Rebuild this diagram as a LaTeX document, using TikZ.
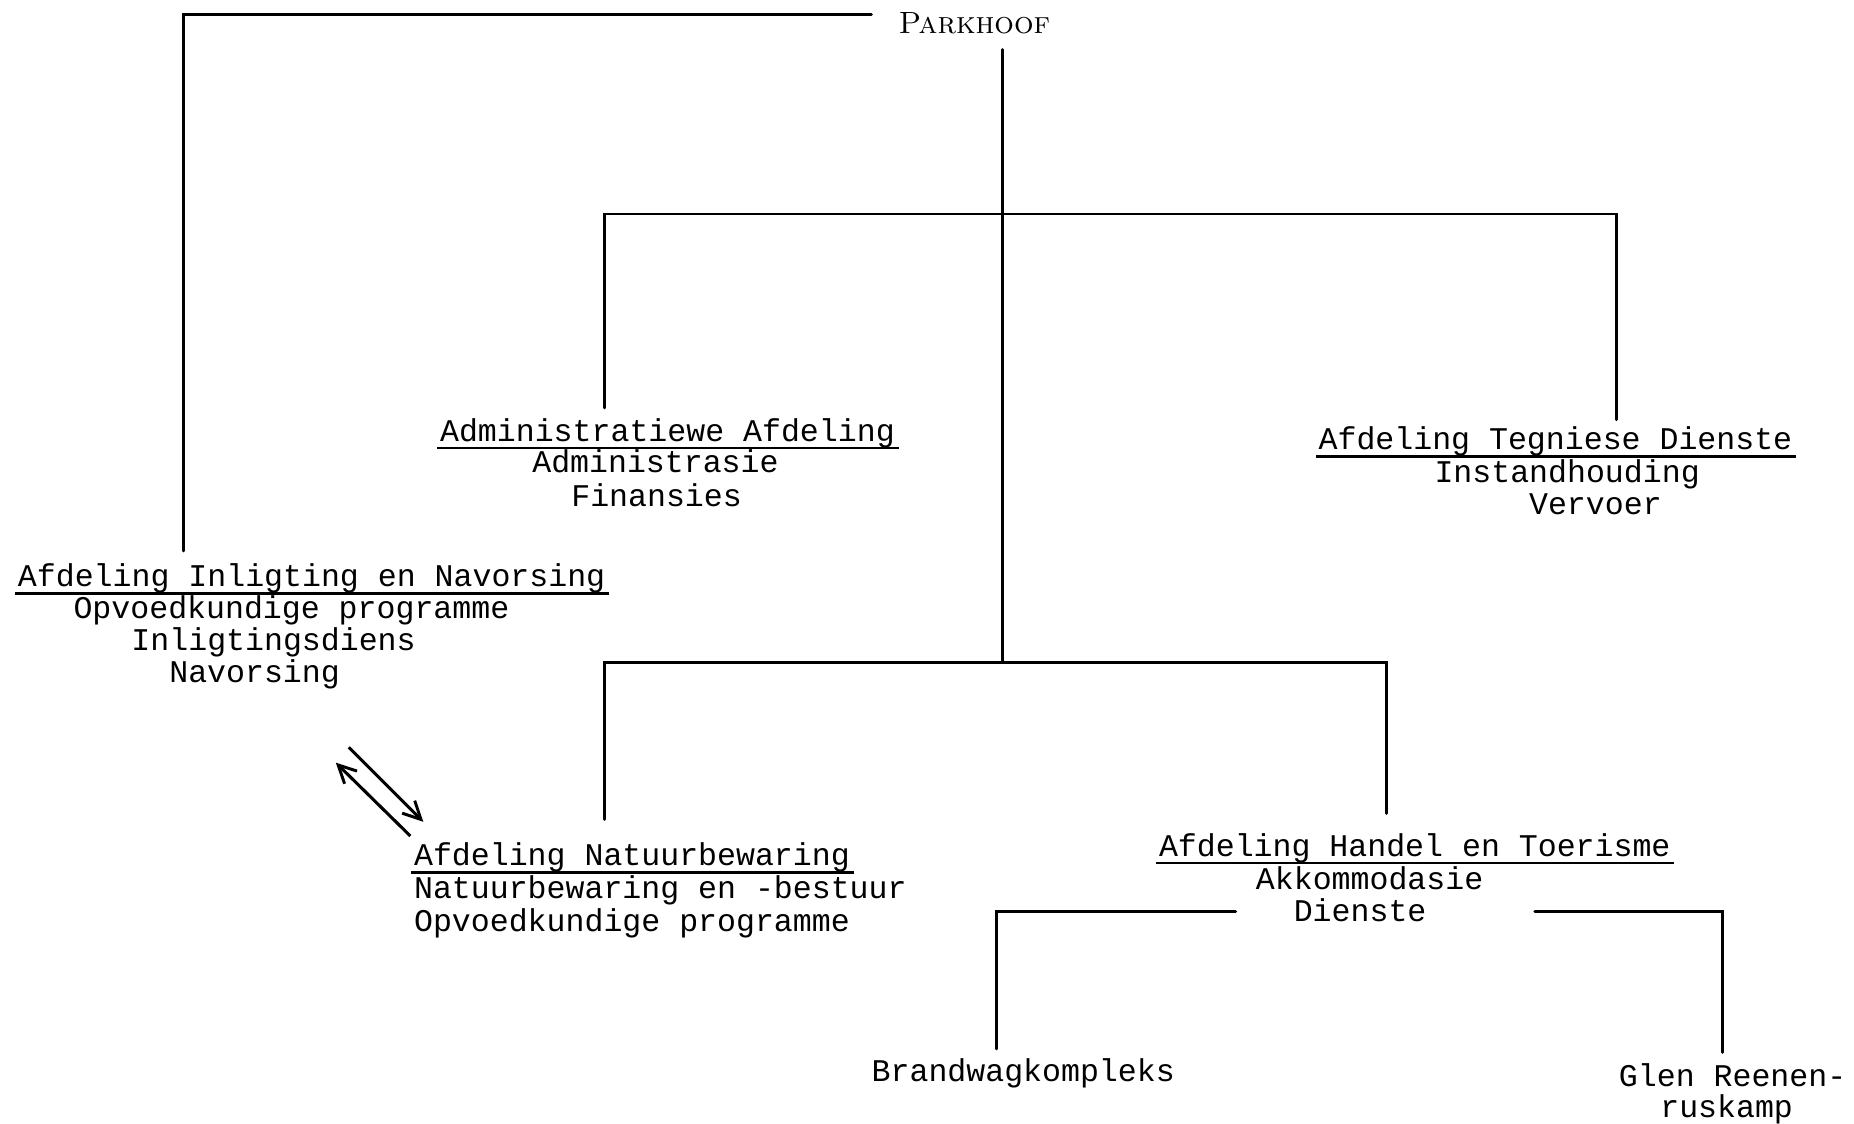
\documentclass[tikz,border=0pt]{standalone}
\usepackage{fontspec}
\newfontfamily\tw{Liberation Mono}
\usetikzlibrary{arrows.meta,calc}
\tikzset{
  ln/.style={line width=2.5pt, line cap=round, line join=miter},
  tt/.style={font=\tw\fontsize{26.7pt}{27pt}\selectfont, inner sep=0pt, anchor=base west},
  ul/.style={line width=2.2pt},
  arr/.style={line width=2.6pt, -{Straight Barb[length=15pt,width=15pt,line width=2.5pt]}}
}
\begin{document}
\begin{tikzpicture}[x=1pt,y=-1pt]
\useasboundingbox (0,0) rectangle (1568,950);
% head
\node[inner sep=0pt, anchor=base, font=\fontsize{26pt}{26pt}\selectfont] (parkhoof) at (824,28) {\textsc{Parkhoof}};
% Administratiewe
\node[tt] (admint) at (372,373) {Administratiewe Afdeling};
\node[tt] (admin1) at (450,400) {Administrasie};
\node[tt] (admin2) at (483,428) {Finansies};
% Tegniese
\node[tt] (tegnt) at (1115,380) {Afdeling Tegniese Dienste};
\node[tt] (tegn1) at (1213,408) {Instandhouding};
\node[tt] (tegn2) at (1293,435) {Vervoer};
% Inligting
\node[tt] (inligt) at (15,496) {Afdeling Inligting en Navorsing};
\node[tt] (inlig1) at (62,523) {Opvoedkundige programme};
\node[tt] (inlig2) at (111,550) {Inligtingsdiens};
\node[tt] (inlig3) at (143,577) {Navorsing};
% Natuurbewaring
\node[tt] (natt) at (350,732) {Afdeling Natuurbewaring};
\node[tt] (nat1) at (350,760) {Natuurbewaring en -bestuur};
\node[tt] (nat2) at (350,788) {Opvoedkundige programme};
% Handel
\node[tt] (handt) at (980,724) {Afdeling Handel en Toerisme};
\node[tt] (hand1) at (1062,752) {Akkommodasie};
\node[tt] (hand2) at (1094,779) {Dienste};
% camps
\node[tt] (brand) at (737,915) {Brandwagkompleks};
\node[tt] (glen1) at (1369,919) {Glen Reenen-};
\node[tt] (glen2) at (1404,945) {ruskamp};
% underlines
\foreach \n in {admint,tegnt,inligt,natt,handt}
  \draw[ul] ($(\n.base west)+(-2,6)$) -- ($(\n.base east)+(3,6)$);
% connector points
\coordinate (pl) at (737,12);
\coordinate (plc) at (155,12);
\coordinate (inligtop) at (155,466);
\coordinate (trtop) at (848,42);
\coordinate (j1) at (848,181);
\coordinate (j1l) at (511,181);
\coordinate (j1r) at (1367,181);
\coordinate (admintop) at (511,345);
\coordinate (tegntop) at (1367,355);
\coordinate (j2) at (848,560);
\coordinate (j2l) at (511,560);
\coordinate (j2r) at (1173,560);
\coordinate (nattop) at (511,693);
\coordinate (handtop) at (1173,688);
\coordinate (h3l) at (1045,771);
\coordinate (h3lc) at (843,771);
\coordinate (brandtop) at (843,887);
\coordinate (h3r) at (1298,771);
\coordinate (h3rc) at (1457,771);
\coordinate (glentop) at (1457,890);
\coordinate (a1s) at (295,632);
\coordinate (a1e) at (358,695);
\coordinate (a2s) at (347,707);
\coordinate (a2e) at (284,645);
% connectors
\draw[ln] (pl) -- (plc) -- (inligtop);
\draw[ln] (trtop) -- (j1) -- (j2);
\draw[ln] (admintop) -- (j1l) -- (j1r) -- (tegntop);
\draw[ln] (nattop) -- (j2l) -- (j2r) -- (handtop);
\draw[ln] (h3l) -- (h3lc) -- (brandtop);
\draw[ln] (h3r) -- (h3rc) -- (glentop);
\draw[arr] (a1s) -- (a1e);
\draw[arr] (a2s) -- (a2e);
\end{tikzpicture}
\end{document}
